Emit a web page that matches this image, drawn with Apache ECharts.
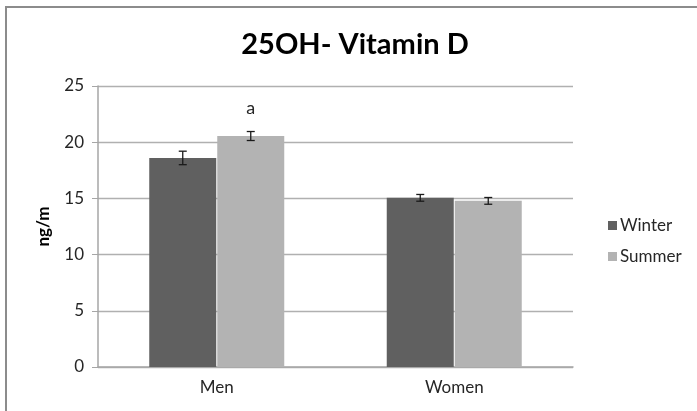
<!DOCTYPE html>
<html>
<head>
<meta charset="utf-8">
<script src="https://cdn.jsdelivr.net/npm/echarts@6/dist/echarts.min.js"></script>
<style>
  html, body { margin: 0; padding: 0; background: #fff; }
  #chart { width: 697px; height: 411px; }
</style>
</head>
<body>
<div id="chart"></div>
<script>
// Serum 25OH-vitamin D by sex and season
const categories = ['Men', 'Women'];
const seriesNames = ['Winter', 'Summer'];
const winterValues = [18.6, 15.05];
const summerValues = [20.55, 14.78];
const winterErrors = [0.6, 0.3];
const summerErrors = [0.4, 0.3];
const summerMarks = ['a', ''];
const yTicks = [0, 5, 10, 15, 20, 25];

const FONT = 'Lato, "Open Sans", sans-serif';
const chart = echarts.init(document.getElementById('chart'));

// Error bar drawn with custom series, aligned with one of the two bars in each group
function errorSeries(values, errors, barIndex) {
  return {
    type: 'custom',
    name: seriesNames[barIndex] + ' error',
    z: 10,
    data: values.map((v, i) => [i, v - errors[i], v + errors[i]]),
    renderItem: function (params, api) {
      const lo = api.coord([api.value(0), api.value(1)]);
      const hi = api.coord([api.value(0), api.value(2)]);
      const barW = 67, gap = 1;
      const x = lo[0] + (barIndex === 0 ? -(barW + gap) / 2 : (barW + gap) / 2);
      const cap = 4;
      const style = { stroke: '#1a1a1a', lineWidth: 1.3 };
      return {
        type: 'group',
        children: [
          { type: 'line', shape: { x1: x, y1: lo[1], x2: x, y2: hi[1] }, style },
          { type: 'line', shape: { x1: x - cap, y1: lo[1], x2: x + cap, y2: lo[1] }, style },
          { type: 'line', shape: { x1: x - cap, y1: hi[1], x2: x + cap, y2: hi[1] }, style }
        ]
      };
    },
    tooltip: { show: false }
  };
}

chart.setOption({
  animation: false,
  backgroundColor: '#fff',
  graphic: [
    {
      type: 'polyline',
      shape: { points: [[6, 420], [6, 7], [710, 7]] },
      style: { fill: null, stroke: '#8c8c8c', lineWidth: 2 }
    }
  ],
  title: {
    text: '25OH- Vitamin D',
    left: 350,
    textAlign: 'center',
    top: 25,
    textStyle: { fontFamily: FONT, fontWeight: 'bold', fontSize: 29, color: '#000' }
  },
  legend: {
    orient: 'vertical',
    left: 603,
    top: 212,
    itemWidth: 9,
    itemHeight: 9,
    itemGap: 14,
    icon: 'rect',
    data: seriesNames,
    textStyle: { fontFamily: FONT, fontSize: 17, color: '#262626', padding: [0, 0, 0, -2] }
  },
  grid: { left: 98, right: 124, top: 86, bottom: 44, containLabel: false },
  xAxis: {
    type: 'category',
    data: categories,
    axisLine: { lineStyle: { color: '#a6a6a6', width: 1.5 } },
    axisTick: { show: false },
    axisLabel: { fontFamily: FONT, fontSize: 17, color: '#262626', margin: 12 }
  },
  yAxis: {
    type: 'value',
    min: yTicks[0],
    max: yTicks[yTicks.length - 1],
    interval: 5,
    name: 'ng/m',
    nameLocation: 'middle',
    nameRotate: 90,
    nameGap: 46,
    nameTextStyle: { fontFamily: FONT, fontWeight: 'bold', fontSize: 17, color: '#000' },
    axisLine: { show: true, lineStyle: { color: '#a6a6a6', width: 1.5 } },
    axisTick: { show: true, length: 6, lineStyle: { color: '#a6a6a6' } },
    axisLabel: { fontFamily: FONT, fontSize: 17, color: '#262626', margin: 14 },
    splitLine: { lineStyle: { color: '#b0b0b0', width: 1.3 } }
  },
  series: [
    {
      type: 'bar',
      name: seriesNames[0],
      data: winterValues,
      barWidth: 67,
      barGap: '1.5%',
      itemStyle: { color: '#606060' }
    },
    {
      type: 'bar',
      name: seriesNames[1],
      data: summerValues.map((v, i) => ({
        value: v,
        label: {
          show: summerMarks[i] !== '',
          position: 'top',
          distance: 19,
          formatter: summerMarks[i],
          fontFamily: FONT,
          fontSize: 18,
          color: '#262626'
        }
      })),
      barWidth: 67,
      itemStyle: { color: '#b3b3b3' }
    },
    errorSeries(winterValues, winterErrors, 0),
    errorSeries(summerValues, summerErrors, 1)
  ]
});
</script>
</body>
</html>
